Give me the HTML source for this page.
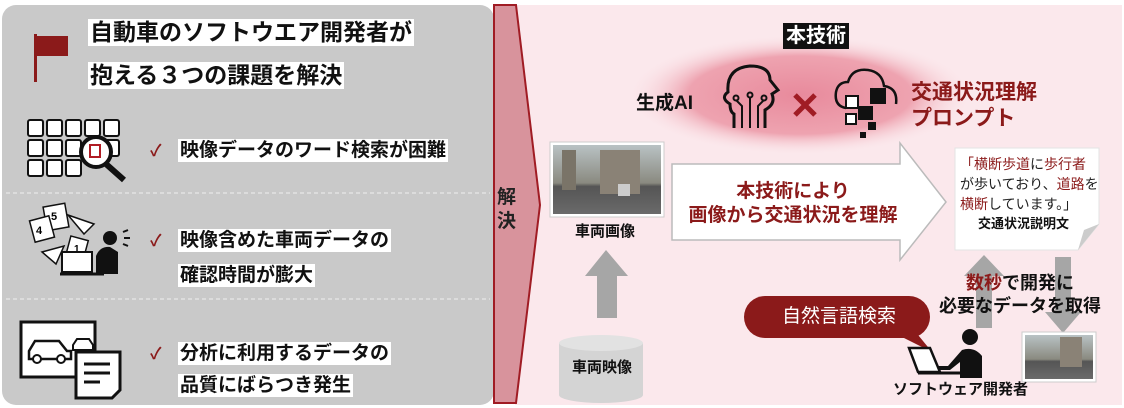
<!DOCTYPE html>
<html><head><meta charset="utf-8"><style>
*{margin:0;padding:0;box-sizing:border-box}
body{width:1124px;height:408px;background:#fff;position:relative;overflow:hidden;font-family:"Liberation Sans","Noto Sans CJK JP",sans-serif;font-weight:bold}
.t{position:absolute;white-space:nowrap;line-height:1}
.wb{background:#fff;padding:2px 2px;color:#111}
.red{color:#8b1a1a}
svg{position:absolute;left:0;top:0}
</style></head><body>
<svg width="1124" height="408">
<defs>
<radialGradient id="g" cx="50%" cy="50%" r="50%"><stop offset="0" stop-color="#e88a9c"/><stop offset="0.65" stop-color="#eea3b0"/><stop offset="1" stop-color="#fbe6ea" stop-opacity="0"/></radialGradient>
<linearGradient id="ph" x1="0" y1="0" x2="0" y2="1"><stop offset="0" stop-color="#b9c2c4"/><stop offset="0.55" stop-color="#8a8a80"/><stop offset="0.6" stop-color="#555"/><stop offset="1" stop-color="#6a6a6a"/></linearGradient>
</defs>
<rect x="2" y="5" width="492" height="400" rx="14" fill="#c9c9c9"/>
<rect x="515" y="5" width="607" height="400" fill="#fbe8ec"/>
<line x1="6" y1="193" x2="490" y2="193" stroke="#eee" stroke-dasharray="4 3"/>
<line x1="6" y1="299" x2="490" y2="299" stroke="#eee" stroke-dasharray="4 3"/>
<polygon points="494,5 516,5 540,205 516,403 494,403" fill="#d8939c" stroke="#a01c24" stroke-width="2"/>
<ellipse cx="800" cy="95" rx="172" ry="60" fill="url(#g)"/>
<!-- flag -->
<rect x="34" y="34" width="3" height="48" fill="#8b1a1a"/><rect x="37" y="36" width="31" height="20" fill="#8b1a1a"/>
<!-- icon1 grid -->
<g fill="#fff" stroke="#111" stroke-width="2">
<rect x="28" y="120" width="15" height="16" rx="2"/><rect x="47" y="120" width="15" height="16" rx="2"/><rect x="66" y="120" width="15" height="16" rx="2"/><rect x="85" y="120" width="15" height="16" rx="2"/><rect x="104" y="120" width="15" height="16" rx="2"/>
<rect x="28" y="140" width="15" height="16" rx="2"/><rect x="47" y="140" width="15" height="16" rx="2"/><rect x="66" y="140" width="15" height="16" rx="2"/><rect x="104" y="140" width="15" height="16" rx="2"/>
<rect x="28" y="160" width="15" height="16" rx="2"/><rect x="47" y="160" width="15" height="16" rx="2"/><rect x="66" y="160" width="15" height="16" rx="2"/>
<circle cx="96" cy="152" r="15" stroke-width="4"/>
</g>
<rect x="90" y="145" width="10" height="12" fill="none" stroke="#b01c24" stroke-width="2"/>
<line x1="106" y1="164" x2="124" y2="180" stroke="#111" stroke-width="6"/>
<!-- icon2 -->
<g fill="#fff" stroke="#111" stroke-width="1.5">
<rect x="45" y="205" width="22" height="24" transform="rotate(-10 56 217)"/><rect x="32" y="218" width="20" height="22" transform="rotate(-15 42 229)"/><rect x="68" y="238" width="18" height="20" transform="rotate(15 77 248)"/><polygon points="68,215 94,224 84,234"/><polygon points="42,252 64,246 56,264"/>
</g>
<text x="36" y="234" font-size="11">4</text><text x="51" y="220" font-size="11">5</text><text x="74" y="252" font-size="10">1</text>
<circle cx="110" cy="238" r="7" fill="#111"/><path d="M96 274 L96 256 Q100 246 110 247 L118 252 L118 274 Z" fill="#111"/>
<rect x="62" y="252" width="30" height="20" fill="#fff" stroke="#111" stroke-width="2"/><line x1="60" y1="274" x2="104" y2="274" stroke="#111" stroke-width="3"/>
<path d="M123 232 l5 -2 M124 238 l6 0 M123 244 l5 2" stroke="#111" stroke-width="2"/>
<!-- icon3 -->
<rect x="21" y="322" width="74" height="55" fill="#fff" stroke="#111" stroke-width="3"/>
<path d="M29 351 l6 -10 h24 l8 10 h4 v8 h-42 z" fill="none" stroke="#111" stroke-width="2.5"/><circle cx="37" cy="359" r="4" fill="#fff" stroke="#111" stroke-width="2"/><circle cx="61" cy="359" r="4" fill="#fff" stroke="#111" stroke-width="2"/>
<path d="M73 345 l4 -6 h12 l4 6 v5 h-20 z" fill="none" stroke="#111" stroke-width="2"/>
<path d="M76 352 h44 v38 l-8 8 h-36 z" fill="#fff" stroke="#111" stroke-width="3"/><line x1="84" y1="364" x2="110" y2="364" stroke="#111" stroke-width="3"/><line x1="84" y1="373" x2="110" y2="373" stroke="#111" stroke-width="3"/><line x1="84" y1="382" x2="100" y2="382" stroke="#111" stroke-width="3"/>
<!-- head icon -->
<path d="M765 128 V110 Q776 104 772 94 L778 90 L770 80 Q770 66 750 66 Q726 68 728 92 Q720 98 730 104 Q730 112 734 114 V128" fill="none" stroke="#111" stroke-width="3"/>
<g stroke="#111" stroke-width="2" fill="none"><path d="M742 128 V106 l-6 -6"/><path d="M750 128 V98"/><path d="M758 128 V106 l6 -6"/><circle cx="736" cy="98" r="2.5"/><circle cx="750" cy="95" r="2.5"/><circle cx="764" cy="98" r="2.5"/></g>
<path d="M795 95 l20 20 M815 95 l-20 20" stroke="#a01c24" stroke-width="5"/>
<!-- cloud icon -->
<path d="M846 108 Q834 106 836 92 Q838 82 848 82 Q852 68 868 70 Q882 72 884 86 Q898 88 896 104" fill="none" stroke="#111" stroke-width="2.5"/>
<rect x="846" y="96" width="12" height="12" fill="#fff" stroke="#111" stroke-width="2"/><rect x="870" y="88" width="16" height="16" fill="#111"/><rect x="858" y="106" width="15" height="14" fill="#111"/><rect x="846" y="114" width="10" height="10" fill="#fff" stroke="#111" stroke-width="2"/><rect x="868" y="122" width="8" height="8" fill="#111"/><rect x="860" y="132" width="6" height="6" fill="#111"/>
<!-- vehicle image -->
<rect x="550" y="142" width="114" height="75" fill="#fff" stroke="#ccc"/><rect x="553" y="145" width="108" height="69" fill="url(#ph)"/>
<rect x="562" y="150" width="14" height="40" fill="#7a7468"/><rect x="600" y="150" width="40" height="44" fill="#8a8276"/><rect x="618" y="184" width="12" height="12" fill="#ccc"/>
<!-- up arrow -->
<polygon points="606,250 628,276 617,276 617,318 597,318 597,276 585,276" fill="#a6a6a6"/>
<!-- cylinder -->
<path d="M559 343 V395 A42 8 0 0 0 643 395 V343" fill="#d4d4d4"/><ellipse cx="601" cy="343" rx="42" ry="8" fill="#e2e2e2"/>
<!-- big arrow -->
<polygon points="672,164 900,164 900,143 946,202 900,260 900,240 672,240" fill="#fff" stroke="#bbb" stroke-width="1.5"/>
<!-- doc -->
<path d="M955 148 H1099 V224 L1078 250 H955 Z" fill="#fff" stroke="#e3e3e3"/><path d="M1078 250 L1084 230 L1099 224 Z" fill="#ccc"/>
<!-- gray arrows -->
<polygon points="984,255 1004,276 992,276 992,328 976,328 976,276 964,276" fill="#a6a6a6"/>
<polygon points="1063,333 1081,312 1071,312 1071,257 1055,257 1055,312 1045,312" fill="#a6a6a6"/>
<!-- bubble -->
<rect x="744" y="296" width="186" height="42" rx="21" fill="#8b1a1a"/><polygon points="914,330 932,352 900,336" fill="#8b1a1a"/>
<!-- person -->
<circle cx="970" cy="337" r="8" fill="#111"/><path d="M960 378 V362 L950 370 H938 V366 H948 L962 350 Q974 346 982 356 V378 Z" fill="#111"/>
<polygon points="909,348 930,348 940,372 918,372" fill="#fff" stroke="#111" stroke-width="2.5"/><line x1="918" y1="373" x2="962" y2="373" stroke="#111" stroke-width="3"/>
<!-- small img -->
<rect x="1022" y="332" width="74" height="50" fill="#fff" stroke="#ccc"/><rect x="1025" y="335" width="68" height="44" fill="url(#ph)"/><rect x="1060" y="337" width="22" height="30" fill="#8a8276"/>
</svg>
<div class="t wb" style="left:88px;top:19px;font-size:23px;">自動車のソフトウエア開発者が</div>
<div class="t wb" style="left:88px;top:62px;font-size:23px;">抱える３つの課題を解決</div>
<div class="t red" style="left:150px;top:144px;font-size:16px;">✓</div>
<div class="t wb" style="left:178px;top:139px;font-size:19px;">映像データのワード検索が困難</div>
<div class="t red" style="left:150px;top:234px;font-size:16px;">✓</div>
<div class="t wb" style="left:178px;top:229px;font-size:19px;">映像含めた車両データの</div>
<div class="t wb" style="left:178px;top:264px;font-size:19px;">確認時間が膨大</div>
<div class="t red" style="left:150px;top:347px;font-size:16px;">✓</div>
<div class="t wb" style="left:178px;top:342px;font-size:19px;">分析に利用するデータの</div>
<div class="t wb" style="left:178px;top:374px;font-size:19px;">品質にばらつき発生</div>
<div class="t" style="left:497px;top:186px;font-size:19px;line-height:24px;color:#222;">解<br>決</div>
<div class="t" style="left:783px;top:23px;font-size:20px;background:#111;color:#fff;padding:3px 3px;">本技術</div>
<div class="t" style="left:636px;top:94px;font-size:19px;color:#111;">生成AI</div>
<div class="t red" style="left:911px;top:80px;font-size:21px;line-height:26px;">交通状況理解<br>プロンプト</div>
<div class="t" style="left:575px;top:224px;font-size:15px;color:#111;">車両画像</div>
<div class="t" style="left:572px;top:360px;font-size:15px;color:#111;">車両映像</div>
<div class="t red" style="left:688px;top:180px;font-size:19px;line-height:24px;text-align:center;width:210px;">本技術により<br>画像から交通状況を理解</div>
<div class="t" style="left:960px;top:154px;font-size:14px;line-height:20px;color:#222;font-weight:normal;"><span class="red">「横断歩道</span>に<span class="red">歩行者</span><br>が歩いており、<span class="red">道路</span>を<br><span class="red">横断</span>しています。」</div>
<div class="t" style="left:978px;top:217px;font-size:13px;color:#111;">交通状況説明文</div>
<div class="t" style="left:938px;top:272px;font-size:18px;line-height:23px;color:#111;text-align:center;width:164px;"><span class="red">数秒</span>で開発に<br>必要なデータを取得</div>
<div class="t" style="left:782px;top:307px;font-size:19px;color:#fff;font-weight:normal;">自然言語検索</div>
<div class="t" style="left:893px;top:382px;font-size:15px;color:#111;">ソフトウェア開発者</div>
</body></html>
